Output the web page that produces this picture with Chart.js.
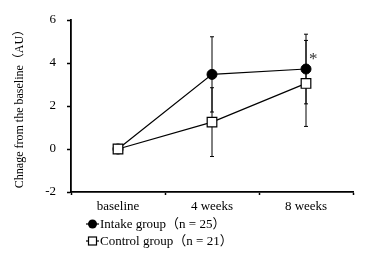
<!DOCTYPE html>
<html>
<head>
<meta charset="utf-8">
<script src="https://cdn.jsdelivr.net/npm/chart.js@4/dist/chart.umd.min.js"></script>
<style>
  html, body { margin: 0; padding: 0; background: #fff; }
  #wrap { width: 370px; height: 260px; }
</style>
</head>
<body>
<div id="wrap"><canvas id="chart" width="370" height="260"></canvas></div>
<script>
// data
const categories = ['baseline', '4 weeks', '8 weeks'];
const intakeMean = [0, 3.47, 3.72];
const intakeErr = [0, 1.75, 1.62];
const controlMean = [0, 1.25, 3.05];
const controlErr = [0, 1.6, 2.0];
const yTicks = [-2, 0, 2, 4, 6];
const intakeLabel = 'Intake group（n = 25）';
const controlLabel = 'Control group（n = 21）';
const starMark = '*';   // significance mark on 8 weeks intake

const FONT = '"Liberation Serif", "Times New Roman", "Noto Sans CJK SC", serif';

const errorBars = {
  id: 'errorBars',
  beforeDatasetsDraw(chart) {
    const ctx = chart.ctx;
    const y = chart.scales.y;
    const errs = [intakeErr, controlErr];
    ctx.save();
    ctx.strokeStyle = '#000';
    ctx.lineWidth = 1;
    chart.data.datasets.forEach((ds, i) => {
      const meta = chart.getDatasetMeta(i);
      meta.data.forEach((pt, j) => {
        const e = errs[i][j];
        if (!e) return;
        const top = y.getPixelForValue(ds.data[j] + e);
        const bot = y.getPixelForValue(ds.data[j] - e);
        ctx.beginPath();
        ctx.moveTo(pt.x, top); ctx.lineTo(pt.x, bot);
        ctx.moveTo(pt.x - 2, top); ctx.lineTo(pt.x + 2, top);
        ctx.moveTo(pt.x - 2, bot); ctx.lineTo(pt.x + 2, bot);
        ctx.stroke();
      });
    });
    ctx.restore();
  },
  afterDatasetsDraw(chart) {
    // asterisk next to the 8 weeks intake point
    const ctx = chart.ctx;
    const pt = chart.getDatasetMeta(0).data[2];
    ctx.save();
    ctx.fillStyle = '#333';
    ctx.font = '17px ' + FONT;
    ctx.textAlign = 'left';
    ctx.textBaseline = 'middle';
    ctx.fillText(starMark, pt.x + 3, pt.y - 9);
    ctx.restore();
  }
};

const bottomLegend = {
  id: 'bottomLegend',
  afterDraw(chart) {
    const ctx = chart.ctx;
    const a = chart.chartArea;
    const x0 = a.left + 15;
    const rows = [
      { text: intakeLabel, y: a.bottom + 32, round: true },
      { text: controlLabel, y: a.bottom + 49, round: false }
    ];
    ctx.save();
    ctx.strokeStyle = '#000';
    ctx.lineWidth = 1.2;
    rows.forEach(r => {
      ctx.beginPath();
      ctx.moveTo(x0, r.y); ctx.lineTo(x0 + 13, r.y);
      ctx.stroke();
      const cx = x0 + 6.5;
      if (r.round) {
        ctx.fillStyle = '#000';
        ctx.beginPath();
        ctx.arc(cx, r.y, 4.5, 0, Math.PI * 2);
        ctx.fill();
      } else {
        ctx.fillStyle = '#fff';
        ctx.fillRect(cx - 4, r.y - 4, 8, 8);
        ctx.strokeRect(cx - 4, r.y - 4, 8, 8);
      }
      ctx.fillStyle = '#000';
      ctx.font = '13px ' + FONT;
      ctx.textAlign = 'left';
      ctx.textBaseline = 'middle';
      ctx.fillText(r.text, x0 + 14, r.y + 1);
    });
    ctx.restore();
  }
};

new Chart(document.getElementById('chart').getContext('2d'), {
  type: 'line',
  data: {
    labels: categories,
    datasets: [
      {
        label: intakeLabel,
        data: intakeMean,
        order: 1,
        borderColor: '#000',
        borderWidth: 1.2,
        pointStyle: 'circle',
        pointRadius: 5,
        pointBackgroundColor: '#000',
        pointBorderColor: '#000',
        pointBorderWidth: 1
      },
      {
        label: controlLabel,
        data: controlMean,
        order: 0,
        borderColor: '#000',
        borderWidth: 1.2,
        pointStyle: 'rect',
        pointRadius: 6.8,
        pointBackgroundColor: '#fff',
        pointBorderColor: '#000',
        pointBorderWidth: 1.2
      }
    ]
  },
  options: {
    responsive: false,
    animation: false,
    layout: { padding: { left: 0, right: 17, top: 20, bottom: 0 } },
    plugins: {
      legend: { display: false },
      tooltip: { enabled: false }
    },
    scales: {
      x: {
        offset: true,
        grid: { offset: true, drawOnChartArea: false, drawTicks: true, tickLength: 3, tickWidth: 1.5, tickColor: '#000' },
        border: { color: '#000', width: 1.8 },
        ticks: { color: '#000', font: { family: FONT, size: 13 }, padding: 4, maxRotation: 0 },
        afterFit(s) { s.height = 68; }
      },
      y: {
        min: -2,
        max: 6,
        afterBuildTicks(s) { s.ticks = yTicks.map(v => ({ value: v })); },
        grid: { drawOnChartArea: false, tickLength: 4, tickWidth: 1.5, tickColor: '#000' },
        border: { color: '#000', width: 1.8 },
        ticks: { color: '#000', font: { family: FONT, size: 13 }, padding: 11 },
        title: {
          display: true,
          text: 'Chnage from the baseline（AU）',
          color: '#000',
          font: { family: FONT, size: 12 },
          padding: { top: 13, bottom: 0 }
        },
        afterFit(s) { s.width = 71; }
      }
    }
  },
  plugins: [errorBars, bottomLegend]
});
</script>
</body>
</html>
